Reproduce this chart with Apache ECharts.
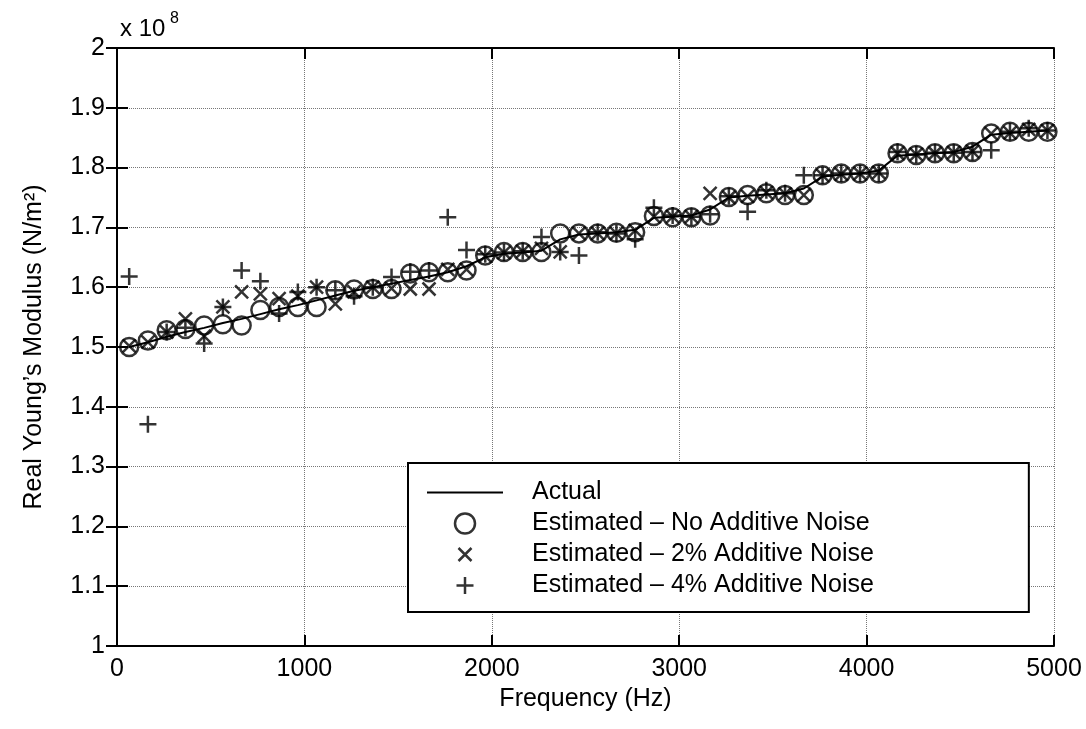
<!DOCTYPE html>
<html>
<head>
<meta charset="utf-8">
<script src="https://cdn.jsdelivr.net/npm/echarts@6/dist/echarts.min.js"></script>
<style>
  html, body { margin: 0; padding: 0; background: #fff; }
  #chart { width: 1086px; height: 729px; }
</style>
</head>
<body>
<div id="chart"></div>
<script>
// frequencies (Hz) of the estimates
const freqs = [65, 165, 265, 365, 465, 565, 665, 765, 865, 965,
  1065, 1165, 1265, 1365, 1465, 1565, 1665, 1765, 1865, 1965,
  2065, 2165, 2265, 2365, 2465, 2565, 2665, 2765, 2865, 2965,
  3065, 3165, 3265, 3365, 3465, 3565, 3665, 3765, 3865, 3965,
  4065, 4165, 4265, 4365, 4465, 4565, 4665, 4765, 4865, 4965];

// real Young's modulus, x 10^8 N/m^2
const actual = [1.500, 1.508, 1.517, 1.525, 1.532, 1.540, 1.547, 1.555, 1.563, 1.570,
  1.578, 1.586, 1.594, 1.600, 1.606, 1.612, 1.618, 1.625, 1.635, 1.650,
  1.656, 1.658, 1.661, 1.680, 1.688, 1.690, 1.692, 1.696, 1.716, 1.718,
  1.720, 1.730, 1.750, 1.753, 1.755, 1.757, 1.765, 1.785, 1.788, 1.790,
  1.795, 1.820, 1.822, 1.824, 1.826, 1.835, 1.855, 1.858, 1.860, 1.862];

const noNoise = [1.500, 1.511, 1.528, 1.530, 1.536, 1.538, 1.536, 1.562, 1.567, 1.567,
  1.567, 1.595, 1.596, 1.597, 1.597, 1.623, 1.625, 1.625, 1.628, 1.653,
  1.659, 1.659, 1.659, 1.690, 1.690, 1.690, 1.691, 1.692, 1.719, 1.717,
  1.717, 1.720, 1.751, 1.754, 1.757, 1.754, 1.754, 1.787, 1.790, 1.790,
  1.790, 1.824, 1.821, 1.824, 1.824, 1.826, 1.857, 1.860, 1.860, 1.860];

const noise2 = [1.502, 1.508, 1.525, 1.547, 1.518, 1.567, 1.592, 1.589, 1.581, 1.585,
  1.600, 1.572, 1.592, 1.600, 1.598, 1.597, 1.597, 1.630, 1.630, 1.652,
  1.658, 1.660, 1.665, 1.659, 1.690, 1.690, 1.690, 1.695, 1.718, 1.718,
  1.718, 1.757, 1.750, 1.752, 1.758, 1.756, 1.754, 1.787, 1.789, 1.790,
  1.792, 1.824, 1.822, 1.824, 1.825, 1.827, 1.857, 1.858, 1.864, 1.862];

const noise4 = [1.618, 1.371, 1.525, 1.532, 1.506, 1.567, 1.628, 1.610, 1.556, 1.592,
  1.600, 1.595, 1.585, 1.600, 1.617, 1.626, 1.628, 1.717, 1.662, 1.655,
  1.658, 1.660, 1.684, 1.659, 1.653, 1.692, 1.690, 1.680, 1.733, 1.720,
  1.718, 1.722, 1.752, 1.726, 1.762, 1.757, 1.787, 1.787, 1.790, 1.790,
  1.790, 1.826, 1.822, 1.825, 1.825, 1.826, 1.829, 1.860, 1.866, 1.862];

const seriesNames = ['Actual', 'Estimated \u2013 No Additive Noise',
  'Estimated \u2013 2% Additive Noise', 'Estimated \u2013 4% Additive Noise'];

const FONT = "'Liberation Sans', Arial, sans-serif";
const pairs = ys => freqs.map((f, i) => [f, ys[i]]);

// the extra moveTo points pad the box so the strokes stay small
const crossPath = 'path://M0,0M20,20M3.5,3.5L16.5,16.5M16.5,3.5L3.5,16.5';
const plusPath = 'path://M0,0M20,20M10,1.5L10,18.5M1.5,10L18.5,10';
const lineIcon = 'path://M0,9L76,9L76,11L0,11Z';

const markerStyle = { color: 'transparent', borderColor: '#000', borderWidth: 2.5 };

const chart = echarts.init(document.getElementById('chart'));

chart.setOption({
  animation: false,
  backgroundColor: '#fff',
  textStyle: { fontFamily: FONT, color: '#000' },
  grid: { left: 117, right: 32, top: 48, bottom: 83 },
  xAxis: [
    {
      type: 'value', min: 0, max: 5000, interval: 1000,
      name: 'Frequency (Hz)', nameLocation: 'middle', nameGap: 33,
      nameTextStyle: { fontSize: 25, fontFamily: FONT, color: '#000' },
      axisLine: { lineStyle: { color: '#000', width: 2 } },
      axisTick: { inside: true, length: 11, lineStyle: { color: '#000', width: 2 } },
      axisLabel: { fontSize: 25, fontFamily: FONT, color: '#000', margin: 11, formatter: v => String(v) },
      splitLine: { show: true, lineStyle: { color: '#777', type: 'dotted', width: 1 } }
    },
    {
      type: 'value', min: 0, max: 5000, interval: 1000, position: 'top',
      axisLine: { show: true, lineStyle: { color: '#000', width: 2 } },
      axisTick: { inside: true, length: 11, lineStyle: { color: '#000', width: 2 } },
      axisLabel: { show: false },
      splitLine: { show: false }
    }
  ],
  yAxis: [
    {
      type: 'value', min: 1, max: 2, interval: 0.1,
      name: 'Real Young\u2019s Modulus (N/m\u00b2)', nameLocation: 'middle', nameGap: 70,
      nameTextStyle: { fontSize: 25, fontFamily: FONT, color: '#000' },
      axisLine: { show: true, lineStyle: { color: '#000', width: 2 } },
      axisTick: { show: true, inside: true, length: 11, lineStyle: { color: '#000', width: 2 } },
      axisLabel: { fontSize: 25, fontFamily: FONT, color: '#000', margin: 12 },
      splitLine: { show: true, lineStyle: { color: '#777', type: 'dotted', width: 1 } }
    },
    {
      type: 'value', min: 1, max: 2, interval: 0.1, position: 'right',
      axisLine: { show: true, lineStyle: { color: '#000', width: 2 } },
      axisTick: { show: true, inside: true, length: 11, lineStyle: { color: '#000', width: 2 } },
      axisLabel: { show: false },
      splitLine: { show: false }
    }
  ],
  legend: {
    orient: 'vertical',
    left: 408, top: 463,
    padding: [17, 155, 14, 19],
    itemWidth: 76, itemHeight: 20, itemGap: 6,
    backgroundColor: '#fff',
    borderColor: '#000', borderWidth: 2, borderRadius: 0,
    selectedMode: false,
    textStyle: { fontSize: 25, fontFamily: FONT, color: '#000', padding: [0, 0, 0, 24] },
    data: [
      { name: seriesNames[0], icon: lineIcon, itemStyle: { color: '#000', borderWidth: 0 } },
      { name: seriesNames[1], itemStyle: { borderWidth: 2.5 } },
      { name: seriesNames[2], itemStyle: { borderWidth: 2.5 } },
      { name: seriesNames[3], itemStyle: { borderWidth: 2.5 } }
    ]
  },
  graphic: [
    { type: 'text', left: 120, top: 17, style: { text: 'x 10', font: '24px ' + FONT, fill: '#000' } },
    { type: 'text', left: 170, top: 11, style: { text: '8', font: '16px ' + FONT, fill: '#000' } }
  ],
  series: [
    {
      name: seriesNames[0], type: 'line', data: pairs(actual),
      symbol: 'none', lineStyle: { color: '#000', width: 2 }, itemStyle: { color: '#000' },
      z: 3
    },
    {
      name: seriesNames[1], type: 'scatter', data: pairs(noNoise),
      symbol: 'circle', symbolSize: 18, itemStyle: markerStyle, z: 4
    },
    {
      name: seriesNames[2], type: 'scatter', data: pairs(noise2),
      symbol: crossPath, symbolSize: 20, itemStyle: markerStyle, z: 4
    },
    {
      name: seriesNames[3], type: 'scatter', data: pairs(noise4),
      symbol: plusPath, symbolSize: 20, itemStyle: markerStyle, z: 4
    }
  ]
});
</script>
</body>
</html>
